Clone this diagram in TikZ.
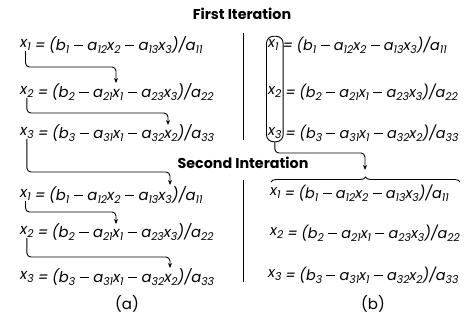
\documentclass[tikz,border=0pt]{standalone}
\usepackage{fontspec}
\setmainfont{Poppins}
\usetikzlibrary{fit,decorations.pathreplacing,arrows.meta}
\newcommand\sbs[1]{\raisebox{-0.4ex}{\fontsize{10.8}{11}\selectfont #1}}
\newcommand\mn{\hspace{0.3em}\rule[0.3em]{0.62em}{0.06em}\hspace{0.3em}}
\newcommand\eqs{\hspace{0.25em}=\hspace{0.25em}}
\tikzset{
  eqv/.style={anchor=west, inner sep=0pt, font=\fontsize{14.8}{17}\selectfont\itshape},
  eqr/.style={anchor=west, inner sep=0pt, font=\fontsize{14.8}{17}\selectfont\itshape},
  eqrr/.style={anchor=west, inner sep=0pt, font=\fontsize{14.4}{17}\selectfont\itshape},
  lbl/.style={inner sep=0pt, font=\fontsize{15}{17}\selectfont},
  ttl/.style={inner sep=0pt, font=\fontsize{14.3}{17}\selectfont\bfseries},
  arr/.style={draw, line width=0.9pt, rounded corners=4pt, -{Stealth[length=5pt,width=4pt]}},
  sepline/.style={line width=1pt},
  vbox/.style={draw, line width=0.9pt, rounded corners=7pt, inner xsep=1.5pt, inner ysep=3pt},
  brc/.style={draw, line width=0.9pt, decorate, decoration={brace, amplitude=5pt}},
}
\newcommand\eqA{\eqs(b\sbs1\mn a\sbs{12}x\sbs2\mn a\sbs{13}x\sbs3)/a\sbs{11}}
\newcommand\eqB{\eqs(b\sbs2\mn a\sbs{21}x\sbs1\mn a\sbs{23}x\sbs3)/a\sbs{22}}
\newcommand\eqC{\eqs(b\sbs3\mn a\sbs{31}x\sbs1\mn a\sbs{32}x\sbs2)/a\sbs{33}}
\begin{document}
\begin{tikzpicture}[x=1pt,y=-1pt]
\useasboundingbox (0,0) rectangle (464,326);
% titles
\node[ttl] (t1) at (242,14) {First Iteration};
\node[ttl] (t2) at (243,163) {Second Interation};
% left panel
\node[eqv] (L1v) at (20,45) {x\sbs1};
\node[eqr] (L1e) at (L1v.east) {\eqA};
\node[eqv] (L2v) at (20,92) {x\sbs2};
\node[eqr] (L2e) at (L2v.east) {\eqB};
\node[eqv] (L3v) at (20,133) {x\sbs3};
\node[eqr] (L3e) at (L3v.east) {\eqC};
\node[eqv] (L4v) at (20,195) {x\sbs1};
\node[eqr] (L4e) at (L4v.east) {\eqA};
\node[eqv] (L5v) at (20,232) {x\sbs2};
\node[eqr] (L5e) at (L5v.east) {\eqB};
\node[eqv] (L6v) at (20,277) {x\sbs3};
\node[eqr] (L6e) at (L6v.east) {\eqC};
% arrow bends and targets
\coordinate (k1) at (116,67);  \coordinate (a1) at (116,83);
\coordinate (k2) at (168,113); \coordinate (a2) at (168,125);
\coordinate (k3) at (170,172); \coordinate (a3) at (170,185);
\coordinate (k4) at (116,212); \coordinate (a4) at (116,224);
\coordinate (k5) at (170,257); \coordinate (a5) at (170,268);
\draw[arr] (L1v.south) |- (k1) -- (a1);
\draw[arr] (L2v.south) |- (k2) -- (a2);
\draw[arr] (L3v.south) |- (k3) -- (a3);
\draw[arr] (L4v.south) |- (k4) -- (a4);
\draw[arr] (L5v.south) |- (k5) -- (a5);
% separators
\draw[sepline] (243,33) -- (243,140);
\draw[sepline] (243,180) -- (243,282);
% right panel
\node[eqrr] (R1v) at (268,45) {x\sbs1};
\node[eqrr] (R1e) at (R1v.east) {\eqA};
\node[eqrr] (R2v) at (268,92) {x\sbs2};
\node[eqrr] (R2e) at (R2v.east) {\eqB};
\node[eqrr] (R3v) at (268,133) {x\sbs3};
\node[eqrr] (R3e) at (R3v.east) {\eqC};
\node[vbox, fit=(R1v)(R3v)] (box) {};
\node[eqrr] (R4v) at (270,193) {x\sbs1};
\node[eqrr] (R4e) at (R4v.east) {\eqA};
\node[eqrr] (R5v) at (270,233) {x\sbs2};
\node[eqrr] (R5e) at (R5v.east) {\eqB};
\node[eqrr] (R6v) at (268,275) {x\sbs3};
\node[eqrr] (R6e) at (R6v.east) {\eqC};
\coordinate (bl) at (271,182);
\coordinate (br) at (460,182);
\draw[brc] (bl) -- (br);
\coordinate (k6) at (365,153); \coordinate (a6) at (365,170);
\draw[arr] (box.south) |- (k6) -- (a6);
% captions
\node[lbl] (ca) at (127,304) {(a)};
\node[lbl] (cb) at (373,304) {(b)};
\end{tikzpicture}
\end{document}
